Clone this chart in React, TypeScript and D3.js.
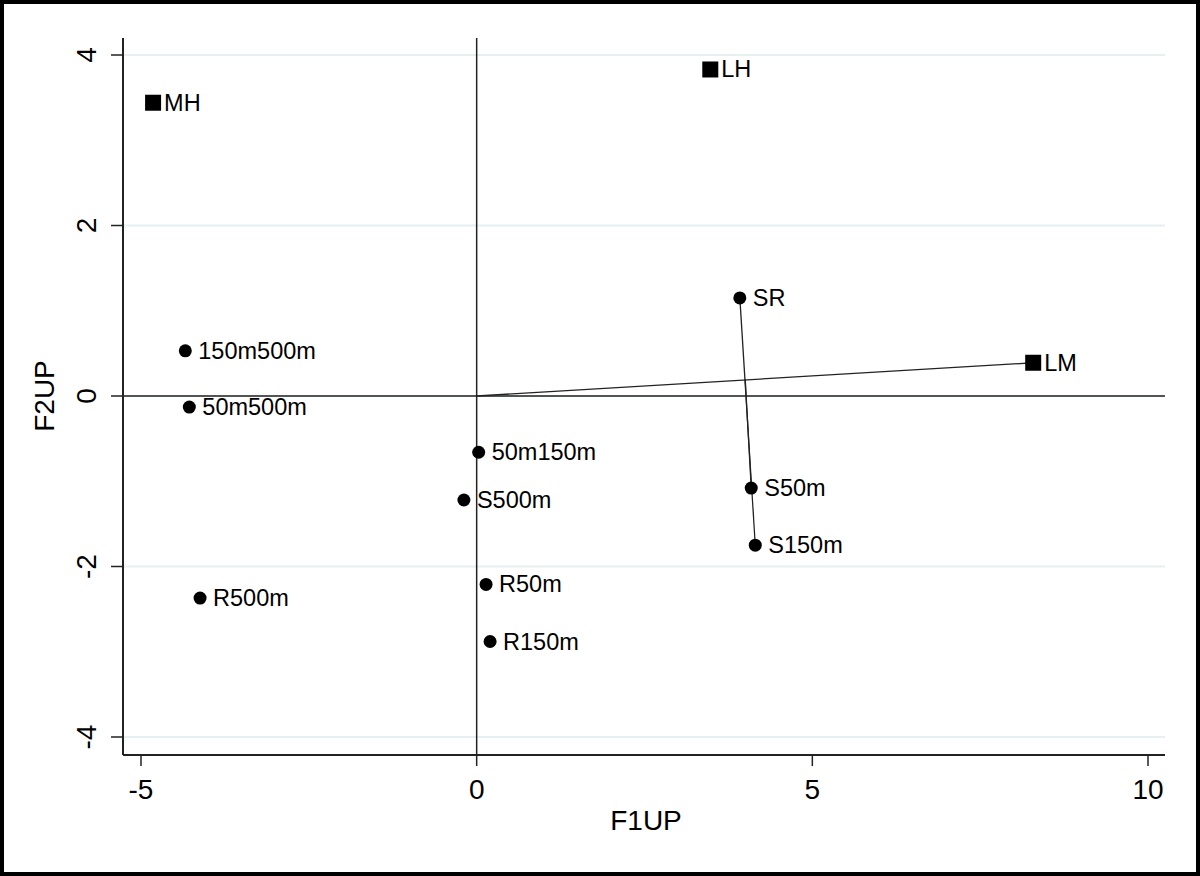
import React, { useEffect, useRef } from 'react';
import * as d3 from 'd3';

// point labels and coordinates (F1UP, F2UP)
const dotNames = ['SR', 'S50m', 'S150m', '150m500m', '50m500m', '50m150m', 'S500m', 'R500m', 'R50m', 'R150m'];
const dotF1 = [3.92, 4.09, 4.15, -4.34, -4.28, 0.03, -0.19, -4.12, 0.14, 0.2];
const dotF2 = [1.15, -1.08, -1.75, 0.53, -0.13, -0.66, -1.22, -2.37, -2.21, -2.88];

const squareNames = ['MH', 'LH', 'LM'];
const squareF1 = [-4.82, 3.48, 8.29];
const squareF2 = [3.44, 3.83, 0.39];

// connecting segments [x1, y1, x2, y2]
const segments = [
  [0, 0, 8.29, 0.39],
  [3.92, 1.15, 4.15, -1.75],
  [4.0, 0.2, 4.09, -1.08],
];

const xTicks = [-5, 0, 5, 10];
const yTicks = [-4, -2, 0, 2, 4];

const W = 1200;
const H = 876;

const App = () => {
  const svgRef = useRef<SVGSVGElement>(null);

  useEffect(() => {
    const svg = d3.select(svgRef.current);
    svg.selectAll('*').remove();

    const left = 123, right = 1165, top = 38, bottom = 755;
    const font = 'Liberation Sans, Arial, sans-serif';

    const x = d3.scaleLinear().domain([-5, 10]).range([141, 1148]);
    const y = d3.scaleLinear().domain([-4, 4]).range([737, 55]);

    svg.append('rect')
      .attr('x', 0).attr('y', 0).attr('width', W).attr('height', H)
      .attr('fill', 'white');

    // gridlines
    svg.selectAll('.grid')
      .data(yTicks)
      .enter().append('line')
      .attr('x1', left).attr('x2', right)
      .attr('y1', d => y(d)).attr('y2', d => y(d))
      .attr('stroke', '#e6f0f0')
      .attr('stroke-width', 2);

    // reference lines at zero
    svg.append('line')
      .attr('x1', left).attr('x2', right)
      .attr('y1', y(0)).attr('y2', y(0))
      .attr('stroke', '#222').attr('stroke-width', 1.5);
    svg.append('line')
      .attr('x1', x(0)).attr('x2', x(0))
      .attr('y1', top).attr('y2', bottom)
      .attr('stroke', '#222').attr('stroke-width', 1.5);

    // axes
    svg.append('line')
      .attr('x1', left).attr('x2', left).attr('y1', top).attr('y2', bottom)
      .attr('stroke', '#222').attr('stroke-width', 2);
    svg.append('line')
      .attr('x1', left).attr('x2', right).attr('y1', bottom).attr('y2', bottom)
      .attr('stroke', '#222').attr('stroke-width', 2);

    svg.selectAll('.xtick')
      .data(xTicks)
      .enter().append('line')
      .attr('x1', d => x(d)).attr('x2', d => x(d))
      .attr('y1', bottom).attr('y2', bottom + 11)
      .attr('stroke', '#222').attr('stroke-width', 1.5);
    svg.selectAll('.xlabel')
      .data(xTicks)
      .enter().append('text')
      .attr('x', d => x(d)).attr('y', 799)
      .attr('text-anchor', 'middle')
      .attr('font-family', font).attr('font-size', 28)
      .text(d => d);

    svg.selectAll('.ytick')
      .data(yTicks)
      .enter().append('line')
      .attr('x1', left - 12).attr('x2', left)
      .attr('y1', d => y(d)).attr('y2', d => y(d))
      .attr('stroke', '#222').attr('stroke-width', 1.5);
    svg.selectAll('.ylabel')
      .data(yTicks)
      .enter().append('text')
      .attr('transform', d => `translate(96,${y(d)}) rotate(-90)`)
      .attr('text-anchor', 'middle')
      .attr('font-family', font).attr('font-size', 28)
      .text(d => d);

    // axis titles
    svg.append('text')
      .attr('x', 646).attr('y', 830)
      .attr('text-anchor', 'middle')
      .attr('font-family', font).attr('font-size', 28)
      .text('F1UP');
    svg.append('text')
      .attr('transform', `translate(54,${y(0)}) rotate(-90)`)
      .attr('text-anchor', 'middle')
      .attr('font-family', font).attr('font-size', 28)
      .text('F2UP');

    // segments
    svg.selectAll('.seg')
      .data(segments)
      .enter().append('line')
      .attr('x1', d => x(d[0])).attr('y1', d => y(d[1]))
      .attr('x2', d => x(d[2])).attr('y2', d => y(d[3]))
      .attr('stroke', '#222').attr('stroke-width', 1.3);

    // dots
    const dots = dotNames.map((n, i) => ({ n, f1: dotF1[i], f2: dotF2[i] }));
    svg.selectAll('.dot')
      .data(dots)
      .enter().append('circle')
      .attr('cx', d => x(d.f1)).attr('cy', d => y(d.f2))
      .attr('r', 6.5)
      .attr('fill', 'black');
    svg.selectAll('.dotlabel')
      .data(dots)
      .enter().append('text')
      .attr('x', d => x(d.f1) + 13).attr('y', d => y(d.f2))
      .attr('dominant-baseline', 'central')
      .attr('font-family', font).attr('font-size', 23.5)
      .text(d => d.n);

    // squares
    const squares = squareNames.map((n, i) => ({ n, f1: squareF1[i], f2: squareF2[i] }));
    svg.selectAll('.sq')
      .data(squares)
      .enter().append('rect')
      .attr('x', d => x(d.f1) - 8).attr('y', d => y(d.f2) - 8)
      .attr('width', 16).attr('height', 16)
      .attr('fill', 'black');
    svg.selectAll('.sqlabel')
      .data(squares)
      .enter().append('text')
      .attr('x', d => x(d.f1) + 11).attr('y', d => y(d.f2))
      .attr('dominant-baseline', 'central')
      .attr('font-family', font).attr('font-size', 23.5)
      .text(d => d.n);

    // outer frame
    svg.append('rect')
      .attr('x', 2).attr('y', 2).attr('width', W - 4).attr('height', H - 4)
      .attr('fill', 'none')
      .attr('stroke', 'black').attr('stroke-width', 4);
  }, []);

  return (
    <svg ref={svgRef} width={W} height={H}
      style={{ position: 'absolute', left: 0, top: 0, display: 'block' }} />
  );
};

export default App;
